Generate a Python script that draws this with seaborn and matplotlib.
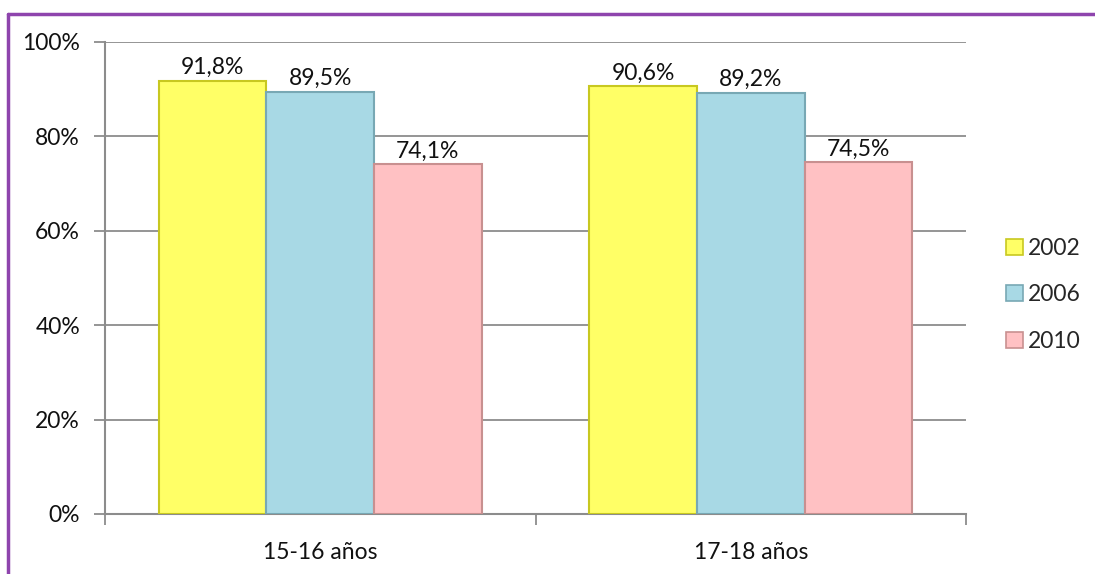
import matplotlib
matplotlib.use("Agg")
import matplotlib.pyplot as plt
import seaborn as sns
import pandas as pd
from matplotlib.lines import Line2D
from matplotlib.ticker import FixedLocator, PercentFormatter

groups = ["15-16 años", "17-18 años"]
years = ["2002", "2006", "2010"]
values = {
    "2002": [91.8, 90.6],
    "2006": [89.5, 89.2],
    "2010": [74.1, 74.5],
}
face_colors = ["#FFFF66", "#A8D9E5", "#FFC1C3"]
edge_colors = ["#C8C820", "#78A8B4", "#C89090"]

rows = []
for y in years:
    for g, v in zip(groups, values[y]):
        rows.append({"grupo": g, "año": y, "valor": v})
df = pd.DataFrame(rows)

sns.set_theme(style="white")
plt.rcParams["font.family"] = ["Lato", "DejaVu Sans"]
FS = 16.5

fig = plt.figure(figsize=(10.95, 5.74), dpi=100)
ax = fig.add_axes([105 / 1095, 1 - 514 / 574, (966 - 105) / 1095, (514 - 42) / 574])

sns.barplot(data=df, x="grupo", y="valor", hue="año", hue_order=years,
            palette=face_colors, saturation=1, width=0.75, ax=ax, zorder=3)

for i, cont in enumerate(ax.containers):
    for p in cont:
        p.set_edgecolor(edge_colors[i])
        p.set_linewidth(1.5)
    labels = [f"{v:.1f}%".replace(".", ",") for v in values[years[i]]]
    ax.bar_label(cont, labels=labels, padding=2, fontsize=FS, color="#111111")

ax.set_ylim(0, 100)
ax.set_xlim(-0.5, 1.5)
ax.set_yticks([0, 20, 40, 60, 80, 100])
ax.yaxis.set_major_formatter(PercentFormatter(decimals=0))
ax.grid(axis="y", color="#8C8C8C", linewidth=1.3, zorder=0)
ax.set_axisbelow(True)
ax.set_xlabel("")
ax.set_ylabel("")

for s in ["top", "right"]:
    ax.spines[s].set_visible(False)
for s in ["left", "bottom"]:
    ax.spines[s].set_color("#8C8C8C")
    ax.spines[s].set_linewidth(1.5)

ax.tick_params(axis="y", which="major", direction="out", length=8, width=1.3,
               color="#8C8C8C", labelsize=FS, labelcolor="#111111", pad=10, left=True)
ax.tick_params(axis="x", which="major", length=0, labelsize=FS, labelcolor="#111111", pad=20)
ax.xaxis.set_minor_locator(FixedLocator([-0.5, 0.5, 1.5]))
ax.tick_params(axis="x", which="minor", direction="out", length=8, width=1.3,
               color="#8C8C8C", bottom=True)

leg = ax.legend(loc="center left", bbox_to_anchor=(995 / 1095, 1 - 295 / 574),
                bbox_transform=fig.transFigure, frameon=False, fontsize=FS,
                handlelength=0.7, handleheight=0.7, handletextpad=0.25,
                labelspacing=1.1, borderpad=0)
for h, ec in zip(leg.legend_handles, edge_colors):
    h.set_edgecolor(ec)
    h.set_linewidth(1.2)

purple = "#8E44AD"
fig.add_artist(Line2D([7.5 / 1095, 1.0], [1 - 14 / 574, 1 - 14 / 574],
                      transform=fig.transFigure, color=purple, linewidth=2.5))
fig.add_artist(Line2D([7.5 / 1095, 7.5 / 1095], [0, 1 - 14 / 574],
                      transform=fig.transFigure, color=purple, linewidth=2.5))

fig.savefig("out.png", dpi=100)
